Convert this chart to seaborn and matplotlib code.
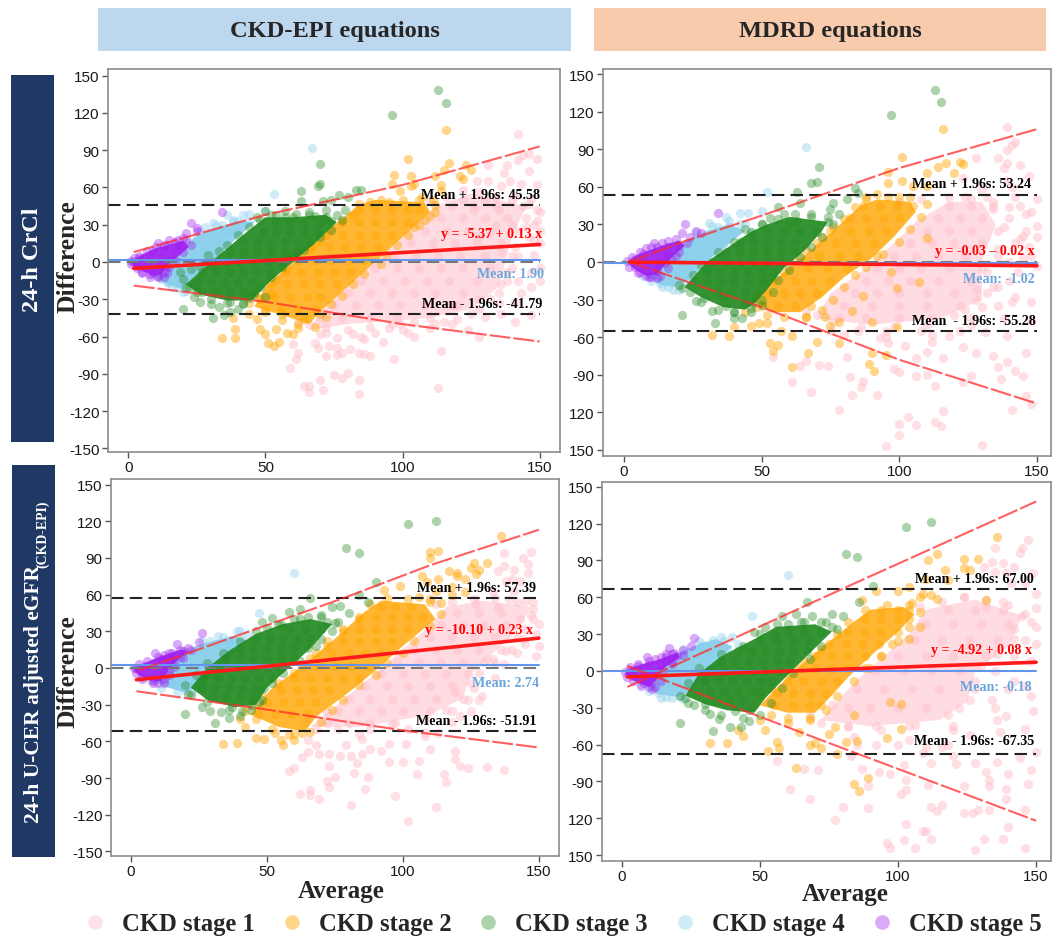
# bland_altman_ckd.py

import pandas as pd
import matplotlib
matplotlib.use('Agg')
import matplotlib.pyplot as plt
from matplotlib.lines import Line2D
from matplotlib.patches import Rectangle
import seaborn as sns

# ----------------------------
# Data
# hull = outline of the solid part of a cloud
# core = dots inside it, fringe = dots round its border, edge = single visible dots
# ----------------------------
stages = ['CKD stage 1', 'CKD stage 2', 'CKD stage 3', 'CKD stage 4', 'CKD stage 5']
y_ticks = [150, 120, 90, 60, 30, 0, -30, -60, -90, -120, -150]
x_ticks = [0, 50, 100, 150]
y_labels_full = ['150', '120', '90', '60', '30', '0', '-30', '-60', '-90', '-120', '-150']
y_labels_cut = ['150', '120', '90', '60', '30', '0', '-30', '-60', '-90', '120', '150']

# Panel A: 24-h CrCl vs CKD-EPI
a_s1_hull = [(66,-55),(80,-50),(110,-45),(125,-38),(135,-20),(140,20),(145,45),(125,55),(112,45),(100,20),(90,0),(80,-20),(70,-40)]
a_s2_hull = [(46,-36),(58,-44),(66,-50),(70,-40),(80,-20),(90,0),(100,20),(110,40),(108,48),(90,50),(84,46),(72,24),(60,0),(50,-20)]
a_s3_hull = [(21,-18),(26,-26),(36,-31),(45,-31),(52,-15),(60,0),(68,15),(76,32),(72,38),(60,36),(50,36),(42,22),(30,0)]
a_s4_hull = [(10,-11),(15,-2),(20,8),(24,20),(30,26),(40,33),(46,32),(36,12),(30,0),(24,-12),(20,-22),(14,-18)]
a_s5_hull = [(1,0),(5,6),(10,11),(15,14),(20,17),(22,12),(19,6),(15,-1),(12,-10),(9,-11),(5,-7),(2,-3)]
a_s1_core = [(70,-45),(78,-45),(88,-45),(98,-45),(110,-45),(75,-35),(83,-35),(91,-35),(99,-35),(108,-35),(118,-35),
             (80,-25),(88,-25),(96,-25),(104,-25),(112,-25),(122,-25),(85,-15),(93,-15),(101,-15),(109,-15),(117,-15),(127,-15),
             (90,-5),(98,-5),(106,-5),(114,-5),(122,-5),(132,-5),(97,5),(105,5),(113,5),(121,5),(130,5),(140,5),
             (103,15),(111,15),(119,15),(127,15),(136,15),(108,25),(116,25),(124,25),(132,25),(142,25),
             (114,35),(122,35),(130,35),(138,35),(118,45),(126,45),(134,45),(144,45)]
a_s1_edge = [(142,103),(138,78),(142,82),(149,83),(146,87),(144,86),(131,78),(137,72),(146,73),(131,65),(136,61),(139,65),
             (143,63),(149,62),(149,42),(149,33),(127,65),(122,58),(141,53),(130,50),(147,51),(113,-101),(84,-106),(66,-105),
             (64,-100),(66,-100),(71,-103),(70,-95),(59,-85),(61,-78),(62,-73),(60,-66),(75,-91),(78,-93),(80,-89),(84,-95),
             (97,-78),(114,-72),(128,-60),(141,-48),(147,-43),(141,-32),(118,-50),(104,-60),(102,-57),(93,-64),(88,-76),(86,-74),
             (84,-73),(81,-70),(78,-73),(76,-69),(73,-68),(72,-76),(69,-69),(68,-65),(76,-75),(72,-57),(76,-61),(82,-58),(86,-62),
             (90,-57),(95,-53),(99,-50),(110,-53),(115,-48),(148,6),(135,-25),(142,-15),(150,-5),(146,20),(141,12),(148,18),
             (138,-8),(132,-30),(128,-38),(147,-20),(125,-42),(120,-35),(136,-18),(145,35),(150,25),(135,42),(140,30)]
a_s1_fringe = [(110,50),(116,52),(122,50),(128,56),(134,52),(140,50),(146,47),(150,40),(145,28),(150,15),(142,5),(147,-8),(138,-15),(143,-25),(135,-33),(128,-30),(130,-44),(120,-46),
               (112,-50),(104,-48),(96,-50),(88,-52),(80,-55),(72,-52),(66,-50),(62,-48),(70,-58),(85,-60),(100,-55),(124,-55),(136,-42),(140,-5),(150,-15),(136,8),(128,20),(148,30),(134,30),(126,42)]
a_s2_core = [(50,-38),(56,-38),(62,-38),(68,-38),(47,-28),(53,-28),(59,-28),(65,-28),(70,-28),(52,-18),(58,-18),(64,-18),(70,-18),(76,-18),
             (57,-8),(63,-8),(69,-8),(75,-8),(81,-8),(62,2),(68,2),(74,2),(80,2),(86,2),(67,12),(73,12),(79,12),(85,12),(91,12),
             (72,22),(78,22),(84,22),(90,22),(96,22),(78,32),(84,32),(90,32),(96,32),(102,32),(84,42),(90,42),(96,42),(102,42),(106,42)]
a_s2_edge = [(116,106),(102,83),(117,80),(123,78),(125,74),(97,70),(103,69),(112,69),(115,74),(121,69),(122,67),(114,62),(104,63),(96,63),
             (99,57),(114,57),(103,61),(34,-61),(39,-61),(39,-54),(38,-45),(48,-54),(50,-58),(51,-65),(53,-68),(55,-64),(54,-54),(58,-57),
             (60,-58),(62,-53),(44,-42),(47,-46),(56,-47),(64,-46),(70,-42),(111,50),(107,52),(92,50),(88,48),(84,47),(112,40),(108,34),(104,28)]
a_s2_fringe = [(44,-33),(48,-30),(52,-26),(50,-40),(56,-42),(46,-25),(54,-14),(58,-6),(62,5),(66,10),(70,16),(74,26),(78,32),(82,38),(68,-52),(62,-50),(72,-44),(74,-34),(78,-27),(82,-18),
               (86,-10),(92,-2),(94,6),(98,14),(102,22),(106,30),(110,37),(112,46),(106,50),(100,50),(95,48)]
a_s3_core = [(27,-24),(32,-24),(37,-24),(42,-24),(25,-16),(30,-16),(35,-16),(40,-16),(45,-16),(27,-8),(32,-8),(37,-8),(42,-8),(47,-8),(52,-8),
             (31,0),(36,0),(41,0),(46,0),(51,0),(56,0),(37,8),(42,8),(47,8),(52,8),(57,8),(61,8),(42,16),(47,16),(52,16),(57,16),(62,16),(66,16),
             (49,24),(54,24),(59,24),(64,24),(69,24),(54,31),(59,31),(64,31),(70,31)]
a_s3_edge = [(113,138),(116,128),(96,118),(70,79),(70,63),(69,61),(63,57),(63,49),(83,58),(85,58),(77,54),(80,52),(74,50),(71,49),(20,-38),
             (31,-45),(35,-43),(37,-40),(40,-38),(26,-32),(30,-34),(33,-36),(21,-20),(24,-28),(37,-32),(42,-33),(44,-29),(50,41),(57,41),
             (52,38),(61,39),(66,40),(72,42),(76,38),(79,42),(47,36),(57,36),(68,37),(74,33),(50,-28)]
a_s3_fringe = [(20,-14),(19,-8),(23,-6),(26,-3),(29,6),(33,9),(36,14),(40,22),(44,28),(48,34),(54,38),(60,36),(66,38),(72,36),(78,34),(74,26),(70,20),(64,10),(60,4),(56,-4),(52,-12),(48,-20),(46,-26),
               (42,-34),(36,-33),(30,-30),(25,-24),(22,-20)]
a_s4_core = [(14,-16),(18,-16),(22,-16),(12,-8),(16,-8),(20,-8),(24,-8),(15,0),(19,0),(23,0),(27,0),(20,8),(24,8),(28,8),(32,8),
             (25,16),(29,16),(33,16),(30,24),(35,24),(38,24)]
a_s4_edge = [(67,92),(53,55),(36,38),(42,38),(44,39),(50,41),(31,31),(40,33),(18,-21),(15,-17),(21,-23),(28,28),(34,30),(38,32),(12,-13)]
a_s4_fringe = [(9,-10),(12,-14),(16,-20),(20,-24),(24,-20),(26,-14),(28,-4),(32,6),(36,14),(40,24),(44,32),(38,34),(32,30),(26,24),(22,16),(18,8),(14,2),(10,-6)]
a_s5_core = [(5,-8),(9,-8),(13,-8),(3,-3),(7,-3),(11,-3),(14,-3),(4,3),(8,3),(12,3),(16,3),(9,9),(13,9),(17,9),(14,14),(18,14),(20,14)]
a_s5_edge = [(34,40),(23,31),(25,27),(21,23),(15,18),(11,15),(25,25),(18,18),(8,-12),(11,-11),(13,-12),(2,0),(20,19)]
a_s5_fringe = [(1,1),(2,3),(4,5),(7,9),(10,12),(13,14),(17,16),(21,18),(23,14),(20,8),(17,2),(15,-4),(14,-9),(11,-12),(8,-10),(5,-9),(3,-5),(1,-2)]

# Panel B: 24-h CrCl vs MDRD
b_s1_hull = [(70,-45),(90,-50),(115,-45),(130,-30),(130,0),(135,30),(130,48),(118,48),(106,32),(98,15),(85,-10),(75,-25)]
b_s2_hull = [(46,-30),(54,-40),(64,-40),(72,-28),(80,-12),(90,3),(98,20),(106,40),(104,48),(92,50),(86,45),(76,25),(66,6),(56,-12)]
b_s3_hull = [(22,-20),(28,-28),(36,-36),(44,-38),(48,-32),(52,-22),(58,-5),(66,10),(72,25),(74,32),(60,36),(52,30),(46,24),(38,12),(30,0)]
b_s4_hull = [(8,-11),(13,-18),(18,-20),(24,-14),(28,-4),(32,4),(38,14),(44,25),(38,30),(32,26),(25,20),(20,12),(14,3)]
b_s5_hull = [(1,0),(5,6),(10,10),(15,14),(20,17),(22,13),(18,5),(15,-2),(12,-10),(8,-11),(4,-6)]
b_s1_core = [(75,-55),(85,-55),(95,-55),(108,-55),(122,-55),(78,-45),(88,-45),(100,-45),(112,-45),(126,-45),(80,-35),(90,-35),(100,-35),(110,-35),(122,-35),(136,-35),
             (84,-25),(92,-25),(100,-25),(110,-25),(120,-25),(132,-25),(88,-15),(96,-15),(104,-15),(114,-15),(126,-15),(140,-15),
             (92,-5),(100,-5),(108,-5),(118,-5),(130,-5),(98,5),(106,5),(114,5),(124,5),(136,5),(104,15),(112,15),(120,15),(130,15),(142,15),
             (110,25),(118,25),(126,25),(136,25),(146,25),(114,35),(122,35),(130,35),(140,35),(118,45),(126,45),(134,45),(144,45),(124,52),(132,52),(142,52)]
b_s1_edge = [(139,108),(128,83),(136,83),(139,79),(144,77),(139,89),(141,93),(142,96),(138,75),(139,65),(147,69),(123,67),(130,-146),(95,-147),(100,-138),(100,-129),
             (103,-124),(106,-130),(113,-128),(115,-131),(116,-119),(141,-118),(78,-118),(68,-104),(61,-96),(83,-106),(92,-106),(86,-100),(87,-95),(82,-92),(64,-83),
             (71,-82),(74,-83),(66,-79),(54,-76),(81,-76),(98,-85),(100,-88),(106,-91),(110,-90),(113,-99),(123,-96),(126,-91),(146,-107),(148,-113),(136,-84),(137,-93),
             (142,-87),(145,-91),(139,-80),(146,-73),(134,-75),(128,-73),(123,-68),(116,-77),(110,-72),(106,-77),(102,-67),(148,-32),(150,-3),(150,29),(145,21),(145,3),
             (141,-32),(138,-45),(131,-56),(148,-47),(139,-59),(118,-59),(112,-64),(96,-65),(93,-61),(128,-30),(134,-20),(143,-8),(147,12),(134,42),(148,40),(150,50),(141,60),(130,58)]
b_s1_fringe = [(100,48),(108,50),(118,52),(126,50),(134,48),(140,44),(146,38),(138,28),(144,18),(136,10),(140,0),(132,-8),(136,-20),(128,-22),(130,-36),(120,-42),(110,-50),(98,-52),(86,-52),(76,-48),
               (70,-42),(66,-40),(80,-58),(95,-60),(112,-58),(126,-50),(142,-28),(124,-38),(148,5),(150,20)]
b_s2_core = [(50,-35),(56,-35),(62,-35),(68,-35),(52,-25),(58,-25),(64,-25),(70,-25),(55,-15),(62,-15),(68,-15),(75,-15),(60,-5),(67,-5),(74,-5),(81,-5),
             (64,5),(71,5),(78,5),(85,5),(92,5),(70,15),(77,15),(84,15),(91,15),(75,25),(82,25),(89,25),(95,25),(82,35),(88,35),(94,35),(100,35),(87,45),(93,45),(99,45),(105,45)]
b_s2_edge = [(116,106),(101,84),(117,79),(122,80),(123,78),(120,71),(114,76),(110,71),(96,72),(101,65),(96,63),(105,61),(110,61),(32,-58),(38,-59),(40,-52),(53,-65),(54,-71),
             (56,-66),(61,-84),(67,-73),(70,-64),(61,-59),(91,-87),(89,-81),(90,-73),(95,-74),(78,-65),(75,-51),(73,-44),(90,-48),(99,-52),(46,-51),(49,-49),(52,-49),(57,-55),
             (107,-16),(99,-21),(97,-8),(87,-27),(83,-39),(78,-48),(110,19),(88,52),(92,54),(100,52),(44,-40),(66,-44)]
b_s2_fringe = [(44,-30),(48,-36),(52,-42),(58,-44),(66,-44),(72,-38),(76,-30),(80,-20),(84,-10),(88,-4),(94,6),(100,16),(104,26),(108,36),(110,46),(104,52),(96,52),(88,50),(84,44),(80,34),(76,28),(72,20),(66,10),(62,0),(58,-8),(52,-14),(48,-24)]
b_s3_core = [(34,-24),(39,-24),(44,-24),(30,-16),(35,-16),(40,-16),(45,-16),(50,-16),(30,-8),(35,-8),(40,-8),(45,-8),(50,-8),(54,-8),(32,0),(37,0),(42,0),(47,0),(52,0),(57,0),
             (37,8),(42,8),(47,8),(52,8),(57,8),(62,8),(42,16),(47,16),(52,16),(57,16),(62,16),(46,24),(52,24),(58,24),(64,24),(70,24)]
b_s3_edge = [(113,137),(115,128),(97,117),(71,76),(70,64),(68,63),(63,56),(64,47),(84,59),(85,55),(81,50),(76,47),(56,44),(21,-42),(33,-49),(26,-31),(40,-45),(43,-45),(37,-35),
             (40,-40),(32,-39),(21,-21),(29,-29),(47,-33),(50,-30),(44,-33),(53,35),(58,38),(63,33),(68,36),(74,32),(75,42),(50,30),(78,38),(60,30),(46,-37),(36,-28)]
b_s3_fringe = [(20,-18),(24,-24),(28,-32),(34,-38),(40,-40),(46,-40),(50,-34),(54,-24),(56,-14),(60,-6),(64,4),(68,12),(72,20),(76,30),(74,36),(68,38),(62,38),(56,34),(50,30),(44,26),(40,16),(34,8),(28,-2),(25,-10)]
b_s4_core = [(14,-14),(18,-14),(22,-14),(12,-7),(16,-7),(20,-7),(24,-7),(28,-7),(14,0),(18,0),(22,0),(26,0),(30,0),(19,7),(23,7),(27,7),(31,7),(35,7),(24,14),(28,14),(32,14),(36,14),(30,22),(35,22),(39,22)]
b_s4_edge = [(66,92),(52,56),(50,41),(42,39),(45,39),(37,36),(31,31),(38,29),(16,-20),(18,-22),(13,-17),(20,-18),(25,-15),(42,30),(34,28)]
b_s4_fringe = [(7,-11),(10,-15),(14,-20),(20,-22),(26,-16),(30,-6),(34,2),(40,12),(46,24),(44,30),(38,33),(32,29),(26,24),(20,14),(14,6),(10,-2)]
b_s5_core = [(4,-4),(8,-6),(12,-7),(4,2),(8,1),(12,0),(15,-1),(7,6),(11,7),(15,7),(19,5),(12,12),(16,12),(20,13)]
b_s5_edge = [(34,39),(22,30),(26,25),(28,23),(21,23),(16,17),(11,15),(8,11),(8,-11),(10,-12),(12,-13),(6,-8),(24,20)]
b_s5_fringe = [(1,1),(3,4),(6,8),(10,12),(14,15),(19,18),(23,15),(20,8),(17,2),(16,-5),(13,-11),(9,-12),(5,-9),(2,-4)]

# Panel C: 24-h U-CER adjusted eGFR vs CKD-EPI
c_s1_hull = [(66,-48),(85,-48),(110,-38),(122,-25),(125,-5),(132,10),(142,30),(147,50),(130,55),(116,50),(110,35),(100,15),(90,-4),(78,-26)]
c_s2_hull = [(44,-38),(54,-48),(64,-52),(68,-40),(80,-20),(90,-2),(100,18),(112,40),(108,52),(92,55),(86,46),(74,22),(62,0),(52,-16)]
c_s3_hull = [(22,-16),(28,-26),(38,-32),(46,-30),(50,-16),(58,0),(66,16),(74,36),(66,40),(56,36),(46,28),(36,14),(28,0)]
c_s4_hull = [(8,-10),(12,-15),(20,-20),(24,-16),(30,-4),(36,8),(43,22),(38,26),(30,22),(24,18),(18,10),(12,0)]
c_s5_hull = [(1,-1),(4,3),(8,7),(13,11),(18,15),(21,14),(16,4),(13,-4),(11,-11),(7,-10),(3,-6)]
c_s1_core = [(72,-45),(80,-45),(88,-45),(97,-45),(76,-35),(84,-35),(92,-35),(100,-35),(110,-35),(118,-35),(80,-25),(88,-25),(96,-25),(104,-25),(112,-25),(122,-25),
             (86,-15),(94,-15),(102,-15),(110,-15),(118,-15),(92,-5),(100,-5),(108,-5),(116,-5),(124,-5),(98,5),(106,5),(114,5),(122,5),(130,5),
             (104,15),(112,15),(120,15),(128,15),(136,15),(110,25),(118,25),(126,25),(134,25),(142,25),(114,35),(122,35),(130,35),(138,35),(120,45),(128,45),(136,45)]
c_s1_edge = [(137,94),(147,95),(144,90),(146,85),(137,83),(141,80),(146,78),(135,79),(140,73),(138,71),(143,71),(102,-125),(112,-114),(81,-112),(97,-105),(86,-99),(62,-103),
             (66,-104),(66,-100),(69,-107),(58,-84),(60,-82),(63,-73),(65,-69),(72,-92),(73,-97),(75,-89),(82,-86),(73,-80),(87,-89),(83,-78),(95,-77),(100,-77),(105,-87),(106,-76),
             (115,-87),(116,-93),(119,-68),(119,-74),(121,-80),(124,-82),(131,-81),(137,-83),(110,-66),(101,-62),(95,-62),(92,-68),(88,-66),(85,-58),(79,-63),(77,-72),(81,-72),
             (73,-70),(69,-70),(68,-63),(65,-59),(85,-70),(125,-35),(129,-23),(121,-39),(108,-53),(113,-53),(149,10),(149,28),(145,32),(143,40),(147,43),(148,54),(145,55),(139,56),
             (141,63),(133,62),(131,7),(137,3),(133,7),(125,-12),(119,-20),(145,20),(140,15),(148,40),(135,50),(127,52)]
c_s1_fringe = [(112,52),(118,54),(126,56),(134,57),(142,54),(148,48),(150,36),(144,24),(138,14),(134,4),(128,-4),(126,-16),(124,-26),(116,-34),(108,-42),(96,-46),(88,-50),(76,-50),(68,-50),(64,-44),(72,-36),(84,-54),(102,-50),(118,-44),(128,-26),(134,-8),(142,12),(150,18),(108,-56)]
c_s2_core = [(47,-38),(53,-38),(59,-38),(65,-38),(50,-28),(56,-28),(62,-28),(68,-28),(55,-18),(61,-18),(67,-18),(73,-18),(60,-8),(66,-8),(72,-8),(78,-8),(84,-8),
             (63,2),(69,2),(75,2),(81,2),(87,2),(68,12),(74,12),(80,12),(86,12),(92,12),(72,22),(78,22),(84,22),(90,22),(96,22),(78,32),(84,32),(90,32),(96,32),(102,32),
             (84,42),(90,42),(96,42),(102,42),(107,42),(92,50),(97,50),(103,50)]
c_s2_edge = [(136,108),(110,95),(113,96),(110,90),(131,86),(126,86),(125,82),(128,80),(127,77),(117,79),(120,78),(107,75),(113,73),(123,73),(120,75),(99,67),(93,64),(109,70),
             (118,66),(112,63),(34,-62),(39,-61),(46,-57),(49,-58),(56,-63),(55,-59),(60,-59),(58,-55),(53,-53),(42,-48),(40,-42),(63,-53),(106,58),(110,56),(114,53),(118,60),(123,62)]
c_s2_fringe = [(42,-35),(46,-42),(52,-50),(60,-54),(66,-52),(70,-44),(74,-34),(78,-26),(84,-14),(90,-6),(94,4),(100,12),(104,22),(110,34),(114,44),(110,54),(102,56),(94,57),(88,52),(84,40),(78,30),(72,18),(66,8),(60,-4),(54,-12),(48,-22),(45,-30)]
c_s3_core = [(30,-24),(35,-24),(40,-24),(45,-24),(26,-16),(31,-16),(36,-16),(41,-16),(46,-16),(49,-16),(27,-8),(32,-8),(37,-8),(42,-8),(47,-8),(52,-8),(30,0),(35,0),(40,0),(45,0),(50,0),(55,0),
             (35,8),(40,8),(45,8),(50,8),(55,8),(60,8),(40,16),(45,16),(50,16),(55,16),(60,16),(65,16),(46,24),(51,24),(56,24),(61,24),(66,24),(70,24),(58,32),(64,32),(70,32)]
c_s3_edge = [(112,120),(102,118),(79,98),(84,94),(90,70),(66,57),(84,60),(87,54),(74,50),(77,51),(80,45),(62,48),(58,46),(20,-38),(31,-45),(36,-41),(40,-39),(21,-21),(26,-32),(29,-35),
             (33,-36),(37,-32),(48,38),(52,41),(55,36),(60,40),(65,42),(70,43),(75,37),(44,-30),(41,-35),(47,-28),(50,33),(72,38)]
c_s3_fringe = [(20,-14),(22,-22),(28,-28),(36,-34),(44,-34),(48,-26),(52,-12),(56,-4),(62,6),(68,18),(74,30),(76,38),(70,42),(62,40),(54,36),(46,30),(40,22),(34,12),(28,4),(24,-6)]
c_s4_core = [(15,-12),(19,-12),(23,-12),(12,-6),(16,-6),(20,-6),(24,-6),(14,0),(18,0),(22,0),(26,0),(19,7),(23,7),(27,7),(31,7),(24,14),(28,14),(32,14),(36,14),(31,20),(36,20)]
c_s4_edge = [(60,78),(47,45),(39,30),(34,25),(29,22),(17,-14),(15,-12),(20,-18),(43,28),(36,23),(24,-16),(41,24)]
c_s4_fringe = [(7,-10),(11,-16),(17,-20),(22,-20),(26,-12),(30,-6),(34,4),(40,14),(45,24),(40,30),(32,26),(26,22),(20,14),(14,6),(10,-3)]
c_s5_core = [(4,-7),(8,-8),(12,-9),(3,-2),(7,-2),(11,-3),(14,-3),(5,2),(9,3),(13,3),(16,4),(11,7),(15,8),(18,9)]
c_s5_edge = [(26,29),(17,20),(25,21),(9,12),(15,12),(12,11),(19,14),(10,-12),(8,-11),(2,0),(21,16)]
c_s5_fringe = [(1,0),(3,3),(6,6),(10,9),(14,12),(18,15),(22,15),(19,8),(16,1),(14,-6),(12,-12),(8,-12),(4,-9),(2,-4)]

# Panel D: 24-h U-CER adjusted eGFR vs MDRD
d_s1_hull = [(72,-40),(90,-45),(115,-40),(125,-25),(128,0),(140,20),(145,45),(128,58),(110,50),(104,30),(94,10),(84,-10)]
d_s2_hull = [(50,-28),(60,-34),(70,-34),(76,-20),(82,-5),(90,12),(100,32),(106,46),(102,52),(90,50),(84,40),(74,22),(64,3),(56,-14)]
d_s3_hull = [(23,-20),(30,-27),(38,-32),(48,-34),(52,-22),(58,-8),(66,10),(76,32),(70,38),(56,36),(48,26),(36,12),(28,-2)]
d_s4_hull = [(8,-11),(13,-19),(20,-21),(26,-16),(28,-6),(34,8),(40,20),(34,26),(28,22),(22,16),(15,6)]
d_s5_hull = [(1,-2),(4,3),(8,6),(13,9),(20,15),(21,11),(15,2),(13,-6),(10,-13),(6,-10),(3,-6)]
d_s1_core = [(85,-60),(100,-60),(118,-60),(82,-45),(92,-45),(104,-45),(120,-45),(82,-30),(90,-30),(100,-30),(110,-30),(122,-30),(135,-30),(85,-15),(95,-15),(105,-15),(115,-15),(128,-15),(140,-15),
             (92,0),(102,0),(112,0),(122,0),(135,0),(100,12),(110,12),(120,12),(132,12),(142,12),(106,25),(116,25),(126,25),(136,25),(146,25),(110,38),(120,38),(130,38),(140,38),(118,50),(128,50),(138,50)]
d_s1_edge = [(147,107),(145,100),(144,96),(135,100),(134,89),(138,88),(131,85),(142,85),(135,81),(139,80),(149,80),(150,63),(141,72),(146,72),(96,-140),(97,-144),(102,-138),(106,-144),(112,-137),
             (110,-130),(109,-130),(103,-125),(128,-146),(131,-137),(138,-137),(146,-144),(140,-127),(77,-121),(80,-111),(89,-112),(68,-104),(61,-96),(66,-80),(71,-81),(56,-73),(89,-94),(101,-100),
             (103,-97),(112,-111),(114,-114),(116,-109),(124,-116),(127,-116),(129,-113),(133,-113),(139,-104),(139,-96),(146,-113),(124,-94),(133,-94),(147,-92),(133,-89),(140,-84),(148,-81),(150,-66),
             (144,-71),(136,-74),(132,-82),(128,-75),(121,-76),(112,-75),(111,-93),(103,-89),(97,-84),(93,-82),(87,-80),(83,-69),(102,-77),(109,-67),(120,-69),(149,-33),(148,-20),(146,-47),(139,-37),
             (146,-12),(150,22),(148,40),(142,34),(150,51),(145,45),(138,56),(124,60),(132,52),(126,-52),(137,-50),(92,-60),(110,-62)]
d_s1_fringe = [(108,52),(116,56),(124,60),(132,58),(140,54),(146,46),(150,36),(142,26),(136,14),(130,4),(128,-8),(126,-24),(118,-36),(106,-44),(94,-48),(82,-46),(72,-42),(68,-36),(76,-28),(84,-54),(104,-56),(120,-48),(134,-24),(142,-8),(148,8),(136,-40),(116,-62)]
d_s2_core = [(55,-28),(62,-28),(68,-28),(72,-28),(56,-18),(62,-18),(68,-18),(74,-18),(60,-8),(66,-8),(72,-8),(78,-8),(64,2),(70,2),(76,2),(82,2),(88,2),(70,12),(76,12),(82,12),(88,12),(94,12),
             (75,22),(81,22),(87,22),(93,22),(98,22),(82,32),(88,32),(94,32),(100,32),(88,42),(94,42),(100,42),(104,42),(94,50),(100,50),(104,50)]
d_s2_edge = [(136,109),(114,95),(111,90),(124,91),(129,91),(124,84),(126,82),(117,82),(110,75),(118,74),(132,58),(100,65),(104,68),(109,63),(92,65),(87,58),(114,59),(32,-59),(38,-59),(44,-53),(42,-48),
             (53,-65),(57,-63),(56,-58),(63,-79),(68,-60),(70,-59),(72,-63),(75,-51),(77,-46),(78,-68),(81,-58),(85,-57),(84,-92),(86,-98),(89,-87),(96,-55),(101,-47),(101,-27),(97,-25),(84,-36),(108,36),
             (104,26),(50,-40),(60,-42),(68,-40),(52,-48),(64,-50),(108,60),(112,62),(105,55)]
d_s2_fringe = [(48,-28),(54,-36),(60,-38),(68,-38),(74,-32),(78,-20),(84,-8),(90,2),(94,12),(100,24),(104,36),(108,48),(104,54),(96,54),(88,50),(82,40),(78,30),(72,18),(66,8),(60,-2),(54,-14),(50,-20)]
d_s3_core = [(34,-24),(39,-24),(44,-24),(32,-16),(37,-16),(42,-16),(47,-16),(50,-16),(30,-8),(35,-8),(40,-8),(45,-8),(50,-8),(54,-8),(32,0),(37,0),(42,0),(47,0),(52,0),(57,0),
             (36,8),(41,8),(46,8),(51,8),(56,8),(61,8),(42,16),(47,16),(52,16),(57,16),(62,16),(67,16),(50,24),(56,24),(62,24),(68,24),(60,32),(66,32),(72,32)]
d_s3_edge = [(112,121),(103,117),(81,95),(85,93),(91,69),(67,56),(86,56),(63,46),(58,45),(69,45),(76,46),(80,45),(21,-42),(33,-49),(39,-46),(43,-46),(32,-35),(35,-39),(26,-28),(23,-22),(46,-41),
             (48,32),(52,36),(55,30),(60,38),(65,40),(72,40),(76,36),(46,-32),(30,-27),(41,-33)]
d_s3_fringe = [(21,-20),(24,-26),(30,-32),(36,-36),(44,-38),(50,-36),(54,-26),(58,-14),(62,-2),(68,10),(72,20),(78,34),(74,40),(66,40),(56,38),(50,30),(44,20),(36,14),(28,2),(24,-10)]
d_s4_core = [(13,-13),(17,-14),(21,-14),(25,-13),(12,-7),(16,-7),(20,-7),(24,-7),(28,-7),(14,0),(18,0),(22,0),(26,0),(30,0),(19,7),(23,7),(27,7),(31,7),(35,7),(24,14),(28,14),(32,14),(30,20),(34,20)]
d_s4_edge = [(60,78),(47,45),(40,28),(37,24),(29,21),(16,-21),(18,-22),(13,-18),(21,-20),(26,-18),(38,18),(33,25)]
d_s4_fringe = [(7,-11),(10,-16),(14,-22),(22,-23),(28,-16),(30,-8),(34,2),(38,14),(42,22),(36,28),(28,24),(22,18),(16,8),(12,0)]
d_s5_core = [(4,-4),(8,-6),(11,-8),(4,1),(8,0),(12,-1),(6,4),(10,5),(14,5),(18,7),(12,10),(16,11),(20,12)]
d_s5_edge = [(26,27),(25,20),(17,19),(22,17),(9,11),(16,14),(10,-13),(8,-10),(12,-13),(3,0),(19,15)]
d_s5_fringe = [(1,-1),(3,3),(6,6),(10,8),(14,11),(18,14),(22,13),(18,6),(15,0),(14,-8),(11,-15),(7,-12),(4,-8),(2,-5)]

# limit and fit lines per panel: x, then y
a_upper = ([2, 50, 100, 150], [8, 38, 62, 93])
a_lower = ([2, 50, 100, 150], [-19, -32, -50, -64])
a_fit = ([2, 150], [-5.1, 14.1])
b_upper = ([2, 20, 50, 100, 150], [0, 15, 37, 75, 106])
b_lower = ([2, 50, 100, 150], [0, -36, -78, -113])
b_fit = ([2, 150], [-0.1, -3.0])
c_upper = ([3, 50, 78, 110, 150], [-2, 35, 57, 84, 113])
c_lower = ([2, 50, 100, 150], [-19, -34, -51, -65])
c_fit = ([2, 150], [-9.6, 24.4])
d_upper = ([2, 80, 150], [-13, 67, 138])
d_lower = ([2, 73, 150], [4, -57, -122])
d_fit = ([2, 150], [-4.8, 7.1])

a_limits = [45.58, 1.90, -41.79]
b_limits = [53.24, -1.02, -55.28]
c_limits = [57.39, 2.74, -51.91]
d_limits = [67.00, -0.18, -67.35]

# ----------------------------
# Setup: style and layout
# ----------------------------
sns.set_theme(style='white')
plt.rcParams['font.family'] = ['Liberation Sans', 'DejaVu Sans']
plt.rcParams['axes.unicode_minus'] = False

W, H = 1052, 937
SERIF = ['Liberation Serif', 'DejaVu Serif']
colors = {'CKD stage 1': '#FFC0CB', 'CKD stage 2': '#FFA500', 'CKD stage 3': '#228B22',
          'CKD stage 4': '#87CEEB', 'CKD stage 5': '#A020F0'}
hull_alpha = {'CKD stage 1': 0.55, 'CKD stage 2': 0.8, 'CKD stage 3': 0.92, 'CKD stage 4': 0.92, 'CKD stage 5': 0.92}
dot_alpha = {'CKD stage 1': 0.5, 'CKD stage 2': 0.45, 'CKD stage 3': 0.38, 'CKD stage 4': 0.4, 'CKD stage 5': 0.38}
# stage 3 sits on top of stages 4 and 5 in the original
draw_order = ['CKD stage 1', 'CKD stage 2', 'CKD stage 4', 'CKD stage 5', 'CKD stage 3']

fig = plt.figure(figsize=(W / 100, H / 100), dpi=100)


def px_box(left, top, right, bottom):
    return [left / W, 1 - bottom / H, (right - left) / W, (bottom - top) / H]


def points(pairs):
    return pd.DataFrame(pairs, columns=['Average', 'Difference'])


panels = [
    dict(box=(108, 70, 560, 453), xlim=(-7.4, 157.4), ylim=(-152.9, 155.3), limits=a_limits,
         upper=a_upper, lower=a_lower, fit=a_fit, zero=True, ylabels=y_labels_full,
         hulls=[a_s1_hull, a_s2_hull, a_s3_hull, a_s4_hull, a_s5_hull],
         clouds=[a_s1_core + a_s1_edge + a_s1_fringe, a_s2_core + a_s2_edge + a_s2_fringe, a_s3_core + a_s3_edge + a_s3_fringe,
                 a_s4_core + a_s4_edge + a_s4_fringe, a_s5_core + a_s5_edge + a_s5_fringe],
         hi=('Mean + 1.96s: 45.58', 150, 54), lo=('Mean - 1.96s: -41.79', 151, -33.5),
         eq=('y = -5.37 + 0.13 x', 151, 23), mean=('Mean: 1.90', 151.5, -9.5)),
    dict(box=(603, 70, 1051, 457), xlim=(-7.6, 155.1), ylim=(-154.8, 154), limits=b_limits,
         upper=b_upper, lower=b_lower, fit=b_fit, zero=True, ylabels=y_labels_cut,
         hulls=[b_s1_hull, b_s2_hull, b_s3_hull, b_s4_hull, b_s5_hull],
         clouds=[b_s1_core + b_s1_edge + b_s1_fringe, b_s2_core + b_s2_edge + b_s2_fringe, b_s3_core + b_s3_edge + b_s3_fringe,
                 b_s4_core + b_s4_edge + b_s4_fringe, b_s5_core + b_s5_edge + b_s5_fringe],
         hi=('Mean + 1.96s: 53.24', 148, 62.7), lo=('Mean  - 1.96s: -55.28', 149.5, -46.7),
         eq=('y = -0.03 – 0.02 x', 149, 9.3), mean=('Mean: -1.02', 149, -13)),
    dict(box=(111, 480, 559, 857), xlim=(-7.35, 157.4), ylim=(-153.7, 154.5), limits=c_limits,
         upper=c_upper, lower=c_lower, fit=c_fit, zero=True, ylabels=y_labels_full,
         hulls=[c_s1_hull, c_s2_hull, c_s3_hull, c_s4_hull, c_s5_hull],
         clouds=[c_s1_core + c_s1_edge + c_s1_fringe, c_s2_core + c_s2_edge + c_s2_fringe, c_s3_core + c_s3_edge + c_s3_fringe,
                 c_s4_core + c_s4_edge + c_s4_fringe, c_s5_core + c_s5_edge + c_s5_fringe],
         hi=('Mean + 1.96s: 57.39', 149, 66), lo=('Mean - 1.96s: -51.91', 149, -43),
         eq=('y = -10.10 + 0.23 x', 148, 31.3), mean=('Mean: 2.74', 150, -12)),
    dict(box=(602, 483, 1051, 862), xlim=(-7.2, 155.4), ylim=(-154.8, 153.9), limits=d_limits,
         upper=d_upper, lower=d_lower, fit=d_fit, zero=False, ylabels=y_labels_cut,
         hulls=[d_s1_hull, d_s2_hull, d_s3_hull, d_s4_hull, d_s5_hull],
         clouds=[d_s1_core + d_s1_edge + d_s1_fringe, d_s2_core + d_s2_edge + d_s2_fringe, d_s3_core + d_s3_edge + d_s3_fringe,
                 d_s4_core + d_s4_edge + d_s4_fringe, d_s5_core + d_s5_edge + d_s5_fringe],
         hi=('Mean + 1.96s: 67.00', 149, 75), lo=('Mean - 1.96s: -67.35', 149.3, -57),
         eq=('y = -4.92 + 0.08 x', 148.5, 17.4), mean=('Mean: -0.18', 148.5, -13)),
]

# ----------------------------
# Plot: the four panels
# ----------------------------
for p in panels:
    ax = fig.add_axes(px_box(*p['box']))
    hull_by_stage = dict(zip(stages, p['hulls']))
    dots_by_stage = dict(zip(stages, p['clouds']))
    for stage in draw_order:
        hull = points(hull_by_stage[stage])
        ax.fill(hull['Average'], hull['Difference'], color=colors[stage], alpha=hull_alpha[stage], lw=0)
        sns.scatterplot(data=points(dots_by_stage[stage]), x='Average', y='Difference', color=colors[stage], s=44,
                        alpha=dot_alpha[stage], linewidth=0, legend=False, ax=ax)

    hi, mean, lo = p['limits']
    x_start = p['xlim'][0]
    if p['zero']:
        ax.plot([x_start, 150], [0, 0], color='#777777', lw=1.5, dashes=(6, 3))
    ax.plot([x_start, 150], [mean, mean], color='#6495ED', lw=1.5)
    ax.plot([x_start, 150], [hi, hi], color='#222222', lw=1.5, dashes=(6, 3))
    ax.plot([x_start, 150], [lo, lo], color='#222222', lw=1.5, dashes=(6, 3))
    ax.plot(*p['upper'], color='#ff2a2a', lw=1.5, alpha=0.75, dashes=(10, 1.5))
    ax.plot(*p['lower'], color='#ff2a2a', lw=1.5, alpha=0.75, dashes=(10, 1.5))
    ax.plot(*p['fit'], color='#ff1a1a', lw=2.6)

    for key, col in [('hi', 'black'), ('lo', 'black'), ('eq', '#ff0000'), ('mean', '#6AA5DC')]:
        label, tx, ty = p[key]
        ax.text(tx, ty, label, color=col, fontsize=10.1, fontweight='bold', family=SERIF,
                ha='right', va='center')

    ax.set_xlim(*p['xlim'])
    ax.set_ylim(*p['ylim'])
    ax.set_xticks(x_ticks)
    ax.set_yticks(y_ticks)
    ax.set_yticklabels(p['ylabels'])
    ax.tick_params(axis='both', length=4, width=1, color='#555555', labelcolor='#1a1a1a', labelsize=11, pad=2,
                   bottom=True, left=True)
    for spine in ax.spines.values():
        spine.set_color('#8c8c8c')
        spine.set_linewidth(1.2)
    ax.set_xlabel('')
    ax.set_ylabel('')

# ----------------------------
# Titles, side bars, axis names
# ----------------------------
bars = [(98, 9, 473, 43, '#BDD7EE'), (594, 9, 452, 43, '#F8CBAD'), (11, 76, 43, 367, '#1F3864'), (12, 466, 43, 392, '#1F3864')]
for bx, by, bw, bh, col in bars:
    fig.add_artist(Rectangle((bx / W, 1 - (by + bh) / H), bw / W, bh / H, transform=fig.transFigure, color=col, lw=0))

fig.text(335 / W, 1 - 32 / H, 'CKD-EPI equations', fontsize=17.6, fontweight='bold', family=SERIF, ha='center', va='center')
fig.text(830 / W, 1 - 32 / H, 'MDRD equations', fontsize=17.6, fontweight='bold', family=SERIF, ha='center', va='center')
fig.text(33 / W, 1 - 260 / H, '24-h CrCl', fontsize=17.5, fontweight='bold', family=SERIF, color='white',
         rotation=90, ha='center', va='center')
fig.text(34 / W, 1 - 823 / H, '24-h U-CER adjusted eGFR', fontsize=15.5, fontweight='bold', family=SERIF, color='white',
         rotation=90, ha='center', va='bottom')
fig.text(43 / W, 1 - 568 / H, '(CKD-EPI)', fontsize=10, fontweight='bold', family=SERIF, color='white',
         rotation=90, ha='center', va='bottom')

fig.text(68 / W, 1 - 257 / H, 'Difference', fontsize=18.4, fontweight='bold', family=SERIF, rotation=90, ha='center', va='center')
fig.text(68 / W, 1 - 672 / H, 'Difference', fontsize=18.4, fontweight='bold', family=SERIF, rotation=90, ha='center', va='center')
fig.text(341 / W, 1 - 892 / H, 'Average', fontsize=18, fontweight='bold', family=SERIF, ha='center', va='center')
fig.text(845 / W, 1 - 895 / H, 'Average', fontsize=18, fontweight='bold', family=SERIF, ha='center', va='center')

# ----------------------------
# Legend
# ----------------------------
handles = [Line2D([], [], linestyle='', marker='o', markersize=10.5, markeredgewidth=0,
                  color=colors[s], alpha=dot_alpha[s] if s != 'CKD stage 1' else 0.45, label=s) for s in stages]
fig.legend(handles=handles, loc='center', bbox_to_anchor=(562 / W, 1 - 925 / H), ncol=5, frameon=False,
           prop={'family': SERIF, 'weight': 'bold', 'size': 17.7}, handlelength=1.0, handletextpad=0.6, columnspacing=1.0,
           borderpad=0, borderaxespad=0)

fig.savefig('out.png', dpi=100)
